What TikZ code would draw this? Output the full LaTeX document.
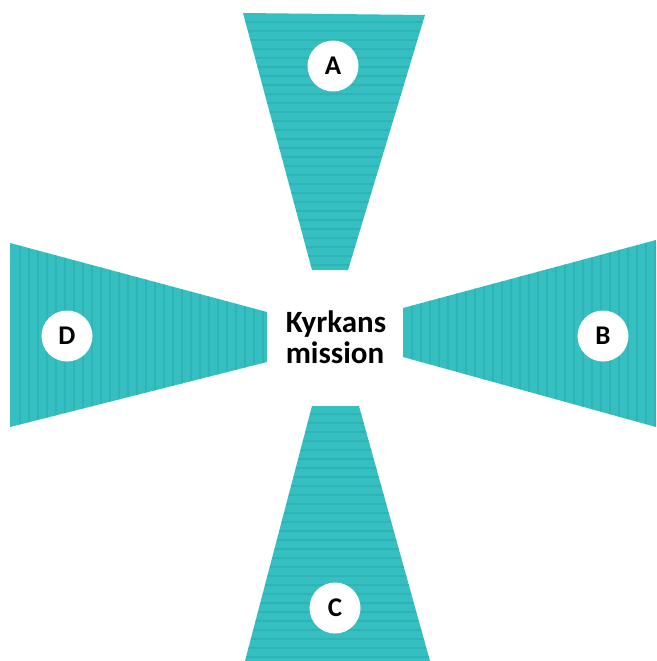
\documentclass[tikz,border=0pt]{standalone}
\usepackage{fontspec}
\newfontfamily\carl{Carlito}
\definecolor{teal1}{HTML}{36BFC0}
\definecolor{teal2}{HTML}{24A4A6}
\begin{document}
\begin{tikzpicture}[x=1pt,y=-1pt,
  petal/.style={fill=teal1},
  stripe/.style={draw=teal2,line width=2pt,opacity=0.4},
  badge/.style={circle,fill=white,minimum size=51pt,inner sep=0pt,font=\carl\bfseries\fontsize{27}{27}\selectfont},
  title/.style={font=\carl\bfseries\fontsize{31}{31}\selectfont,inner sep=0pt,anchor=base}]
\useasboundingbox (0,0) rectangle (656,661);
% A (top)
\begin{scope}
  \clip (243,13) -- (425,15) -- (348,270) -- (312,270) -- cycle;
  \fill[petal] (230,0) rectangle (440,280);
  \foreach \y in {22,31,...,270} \draw[stripe] (230,\y) -- (440,\y);
\end{scope}
% C (bottom)
\begin{scope}
  \clip (312,406) -- (359,406) -- (430,661) -- (245,661) -- cycle;
  \fill[petal] (230,400) rectangle (440,661);
  \foreach \y in {414,423,...,661} \draw[stripe] (230,\y) -- (440,\y);
\end{scope}
% D (left)
\begin{scope}
  \clip (10,243) -- (267,312) -- (267,362) -- (10,427) -- cycle;
  \fill[petal] (0,230) rectangle (280,440);
  \foreach \x in {20,29,...,267} \draw[stripe] (\x,230) -- (\x,440);
\end{scope}
% B (right)
\begin{scope}
  \clip (403,308) -- (656,240) -- (656,427) -- (403,357) -- cycle;
  \fill[petal] (395,230) rectangle (656,440);
  \foreach \x in {412,421,...,656} \draw[stripe] (\x,230) -- (\x,440);
\end{scope}
\node[badge] (a) at (333,66) {A};
\node[badge] (b) at (603,336) {B};
\node[badge] (c) at (335,608) {C};
\node[badge] (d) at (67,336) {D};
\node[title] (t1) at (336,332) {Kyrkans};
\node[title] (t2) at (335,363) {mission};
\end{tikzpicture}
\end{document}
